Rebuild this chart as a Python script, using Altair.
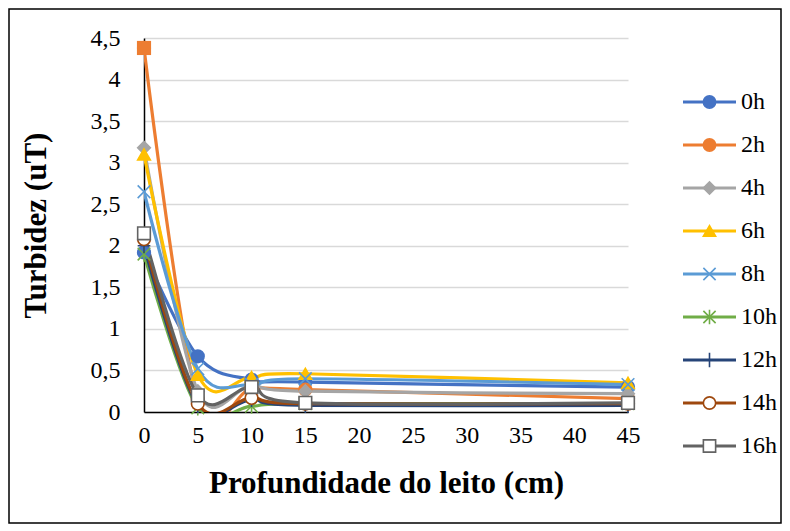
import altair as alt
import pandas as pd

depth = [0, 5, 10, 15, 45]
series = ["0h", "2h", "4h", "6h", "8h", "10h", "12h", "14h", "16h"]
v0h = [1.92, 0.67, 0.39, 0.36, 0.30]
v2h = [4.38, 0.15, 0.28, 0.27, 0.16]
v4h = [3.18, 0.25, 0.32, 0.25, 0.22]
v6h = [3.10, 0.45, 0.42, 0.46, 0.35]
v8h = [2.65, 0.52, 0.33, 0.40, 0.33]
v10h = [1.90, 0.05, 0.07, 0.10, 0.10]
v12h = [2.00, 0.08, 0.15, 0.08, 0.08]
v14h = [2.08, 0.10, 0.17, 0.10, 0.10]
v16h = [2.15, 0.20, 0.30, 0.11, 0.11]
values = [v0h, v2h, v4h, v6h, v8h, v10h, v12h, v14h, v16h]

colors = ["#4472C4", "#ED7D31", "#A5A5A5", "#FFC000", "#5B9BD5",
          "#70AD47", "#264478", "#9E480E", "#636363"]
shapes = ["circle", "circle", "diamond", "triangle-up",
          "M-1,-1L1,1M-1,1L1,-1",
          "M-1,-1L1,1M-1,1L1,-1M0,-1.2L0,1.2",
          "M0,-1.2L0,1.2M-1,0L1,0",
          "circle", "square"]
fills = ["#4472C4", "#ED7D31", "#A5A5A5", "#FFC000", "transparent",
         "transparent", "transparent", "white", "white"]
y_ticks = [0, 0.5, 1, 1.5, 2, 2.5, 3, 3.5, 4, 4.5]
x_ticks = [0, 5, 10, 15, 20, 25, 30, 35, 40, 45]

rows = []
for s, vals in zip(series, values):
    for d, v in zip(depth, vals):
        rows.append({"series": s, "depth": d, "value": v})
df = pd.DataFrame(rows)
legend_df = pd.DataFrame({"series": series})

FONT = "'Liberation Serif', 'Times New Roman', Times, serif"
xs = alt.Scale(domain=[0, 45], nice=False)
ys = alt.Scale(domain=[0, 4.5], nice=False)
stroke_scale = alt.Scale(domain=series, range=colors)
shape_scale = alt.Scale(domain=series, range=shapes)
fill_scale = alt.Scale(domain=series, range=fills)

x_axis = alt.Axis(values=x_ticks, title="Profundidade do leito (cm)", grid=False,
                  ticks=False, labelPadding=11, titlePadding=21, labelFlush=False,
                  domainColor="black", domainWidth=1.5)
y_axis = alt.Axis(values=y_ticks, title="Turbidez (uT)", grid=True, ticks=False,
                  labelPadding=24, titlePadding=38, domainColor="black", labelFlush=False,
                  domainWidth=1.5, gridColor="#D9D9D9", gridWidth=1.5,
                  labelExpr="replace(format(datum.value, '.1~f'), '.', ',')")

base = alt.Chart(df)

lines = base.mark_line(interpolate="cardinal", strokeWidth=3.2, clip=True).encode(
    x=alt.X("depth:Q", scale=xs, axis=x_axis),
    y=alt.Y("value:Q", scale=ys, axis=y_axis),
    stroke=alt.Stroke("series:N", scale=stroke_scale, legend=None),
)

points = base.mark_point(size=160, strokeWidth=1.6, opacity=1).encode(
    x=alt.X("depth:Q", scale=xs),
    y=alt.Y("value:Q", scale=ys),
    stroke=alt.Stroke("series:N", scale=stroke_scale, legend=None),
    fill=alt.Fill("series:N", scale=fill_scale, legend=None),
    shape=alt.Shape("series:N", scale=shape_scale, legend=None),
)

square = base.transform_filter(
    "datum.series == '2h' && datum.depth == 0"
).mark_point(shape="square", size=200, filled=True, opacity=1, color="#ED7D31").encode(
    x=alt.X("depth:Q", scale=xs),
    y=alt.Y("value:Q", scale=ys),
)

frame = alt.Chart(pd.DataFrame({"frame": [1]})).mark_rect(
    fill="white", fillOpacity=0, stroke="black", strokeWidth=1.5
).encode(
    x=alt.value(-135), x2=alt.value(637), y=alt.value(-29), y2=alt.value(485)
)

main = alt.layer(frame, lines, points, square)

lx = alt.Scale(domain=[0, 1], range=[539, 592])
ly = alt.Scale(type="point", domain=series, range=[64, 408], padding=0)
lbase = alt.Chart(legend_df)
leg_rule = lbase.mark_rule(strokeWidth=3.2).encode(
    x=alt.X(datum=0, scale=lx, axis=None),
    x2=alt.X2(datum=1),
    y=alt.Y("series:N", scale=ly, axis=None),
    stroke=alt.Stroke("series:N", scale=stroke_scale, legend=None),
)
leg_pts = lbase.mark_point(size=150, strokeWidth=1.6, opacity=1).encode(
    x=alt.X(datum=0.5, scale=lx, axis=None),
    y=alt.Y("series:N", scale=ly, axis=None),
    stroke=alt.Stroke("series:N", scale=stroke_scale, legend=None),
    fill=alt.Fill("series:N", scale=fill_scale, legend=None),
    shape=alt.Shape("series:N", scale=shape_scale, legend=None),
)
leg_txt = lbase.mark_text(align="left", baseline="middle", dx=5, fontSize=24,
                          font=FONT, color="black").encode(
    x=alt.X(datum=1, scale=lx, axis=None),
    y=alt.Y("series:N", scale=ly, axis=None),
    text="series:N",
)
legend = alt.layer(leg_rule, leg_pts, leg_txt)

chart = alt.layer(main, legend).resolve_scale(
    x="independent", y="independent"
).properties(
    width=484, height=374,
    padding={"left": 0, "top": 0, "right": 0, "bottom": 0},
    background="white",
).configure_view(stroke=None).configure_axis(
    labelFont=FONT, titleFont=FONT, labelFontSize=24, titleFontSize=31,
    labelColor="black", titleColor="black", titleFontWeight="bold",
    labelFontWeight="normal",
)

chart.save("out.html", embed_options={"renderer": "svg", "actions": False})
